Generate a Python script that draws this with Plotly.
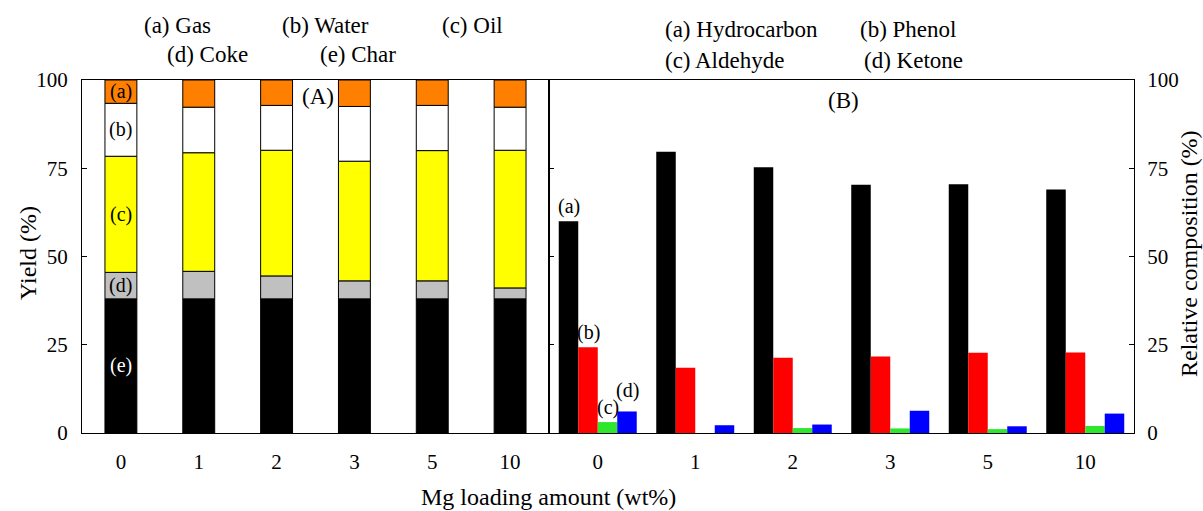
import numpy as np
import plotly.graph_objects as go

# ---------------- data ----------------
loadings = ["0", "1", "2", "3", "5", "10"]

# Panel (A): product yields (%), stacked bottom -> top
char = [38.0, 38.0, 38.0, 38.0, 38.0, 38.0]
coke = [7.5, 7.8, 6.5, 5.1, 5.1, 3.1]
oil = [32.9, 33.6, 35.6, 33.9, 36.9, 39.0]
water = [15.0, 12.9, 12.7, 15.5, 12.8, 12.2]
gas = [6.6, 7.7, 7.2, 7.5, 7.2, 7.7]

# Panel (B): relative composition of oil (%)
hydrocarbon = [60.0, 79.7, 75.3, 70.3, 70.5, 69.0]
phenol = [24.3, 18.5, 21.3, 21.7, 22.7, 22.8]
aldehyde = [3.1, 0.0, 1.4, 1.3, 1.1, 2.0]
ketone = [6.1, 2.2, 2.4, 6.3, 1.9, 5.5]

# ---------------- styling ----------------
FONT = "'Liberation Serif', 'Times New Roman', 'DejaVu Serif', serif"
W, H = 1203, 511
ML, MR, MT, MB = 82, 69, 80, 78
PW, PH = W - ML - MR, H - MT - MB
SPLIT = 549  # pixel x of the shared border


def pxx(x):
    return (x - ML) / PW


def pxy(y):
    return (H - MB - y) / PH


D = pxx(SPLIT)
xpos = np.arange(len(loadings))

fig = go.Figure()

# ---- panel A: stacked bars (explicit bases) ----
stack = [("Char", char, "#000000"), ("Coke", coke, "#C0C0C0"),
         ("Oil", oil, "#FFFF00"), ("Water", water, "#FFFFFF"),
         ("Gas", gas, "#FF8000")]
base = np.zeros(len(loadings))
mids = {}
for name, vals, col in stack:
    v = np.array(vals)
    fig.add_trace(go.Bar(x=xpos, y=v, base=base, width=0.41, offset=-0.205,
                         marker=dict(color=col, line=dict(color="black", width=1)),
                         name=name, xaxis="x", yaxis="y", showlegend=False))
    mids[name] = base + v / 2
    base = base + v

# ---- panel B: grouped bars ----
group = [("Hydrocarbon", hydrocarbon, "#000000"), ("Phenol", phenol, "#FF0000"),
         ("Aldehyde", aldehyde, "#2EE62E"), ("Ketone", ketone, "#0000FF")]
bw = 0.2
for i, (name, vals, col) in enumerate(group):
    fig.add_trace(go.Bar(x=xpos, y=vals, width=bw, offset=-0.4 + i * bw,
                         marker=dict(color=col, line=dict(width=0)),
                         name=name, xaxis="x2", yaxis="y2", showlegend=False))

axis_common = dict(showgrid=False, zeroline=False, showline=True,
                   linecolor="black", linewidth=1,
                   tickfont=dict(family=FONT, size=21, color="black"))

fig.update_layout(
    width=W, height=H, autosize=False,
    margin=dict(l=ML, r=MR, t=MT, b=MB, pad=0),
    paper_bgcolor="white", plot_bgcolor="white",
    barmode="overlay",
    font=dict(family=FONT, color="black"),
    xaxis=dict(domain=[0, D], range=[-0.5, 5.5], tickvals=list(xpos),
               ticktext=loadings, ticks="", mirror=True, anchor="y",
               ticklabelstandoff=10, **axis_common),
    yaxis=dict(domain=[0, 1], range=[0, 100], tickvals=[0, 25, 50, 75, 100],
               ticks="inside", ticklen=5, tickcolor="black", mirror=True,
               anchor="x", ticklabelstandoff=9, **axis_common),
    xaxis2=dict(domain=[D, 1], range=[-0.5, 5.5], tickvals=list(xpos),
                ticktext=loadings, ticks="", mirror=True, anchor="y2",
                ticklabelstandoff=10, **axis_common),
    yaxis2=dict(domain=[0, 1], range=[0, 100], tickvals=[0, 25, 50, 75, 100],
                ticks="inside", ticklen=5, tickcolor="black", mirror="ticks",
                side="right", anchor="x2", ticklabelstandoff=8, **axis_common),
)

ann = []


def txt(text, x, y, size=23, xanchor="center", yanchor="middle", color="black",
        textangle=0):
    ann.append(dict(text=text, x=pxx(x), y=pxy(y), xref="paper", yref="paper",
                    xanchor=xanchor, yanchor=yanchor, showarrow=False,
                    textangle=textangle,
                    font=dict(family=FONT, size=size, color=color)))


# legends on top
txt("(a) Gas", 142, 26, xanchor="left")
txt("(b) Water", 280, 26, xanchor="left")
txt("(c) Oil", 440, 26, xanchor="left")
txt("(d) Coke", 165, 55, xanchor="left")
txt("(e) Char", 318, 55, xanchor="left")
txt("(a) Hydrocarbon", 663, 29, xanchor="left")
txt("(b) Phenol", 858, 29, xanchor="left")
txt("(c) Aldehyde", 663, 60, xanchor="left")
txt("(d) Ketone", 862, 60, xanchor="left")

# panel labels
txt("(A)", 318, 97)
txt("(B)", 843, 100)

# axis titles
txt("Yield (%)", 28, 253, size=24, textangle=-90)
txt("Relative composition (%)", 1189, 254, size=24, textangle=-90)
txt("Mg loading amount (wt%)", 548, 497, size=24)

# in-bar labels of panel A (first bar)
for lab, key, col in [("(a)", "Gas", "black"), ("(b)", "Water", "black"),
                      ("(c)", "Oil", "black"), ("(d)", "Coke", "black"),
                      ("(e)", "Char", "white")]:
    ann.append(dict(text=lab, x=0, y=float(mids[key][0]), xref="x", yref="y",
                    showarrow=False, xanchor="center", yanchor="middle",
                    font=dict(family=FONT, size=20, color=col)))

# labels above the first group of panel B
for i, (lab, vals) in enumerate([("(a)", hydrocarbon), ("(b)", phenol),
                                 ("(c)", aldehyde), ("(d)", ketone)]):
    extra = 6 if lab == "(d)" else 0
    ann.append(dict(text=lab, x=-0.4 + i * bw + bw / 2, y=vals[0], xref="x2",
                    yref="y2", showarrow=False, xanchor="center",
                    yanchor="bottom", yshift=1 + extra,
                    font=dict(family=FONT, size=20, color="black")))

fig.update_layout(annotations=ann)
fig.write_html("out.html")
